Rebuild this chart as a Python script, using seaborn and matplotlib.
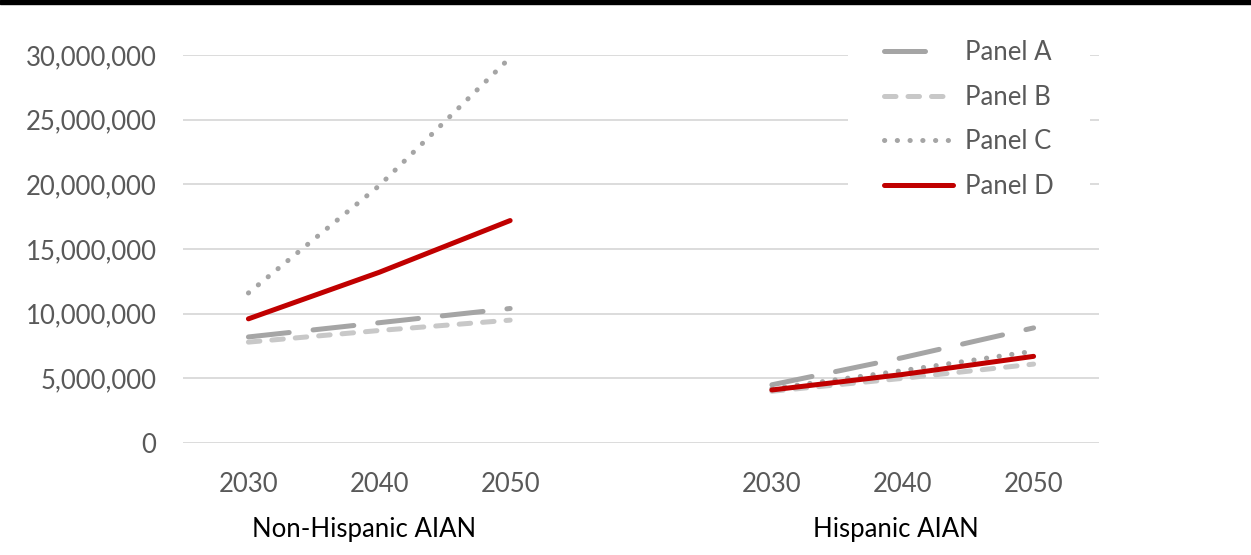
import matplotlib
matplotlib.use("Agg")
import matplotlib.pyplot as plt
from matplotlib.lines import Line2D
from matplotlib.patches import Rectangle
from matplotlib.ticker import FuncFormatter
import matplotlib.transforms as mtransforms
import pandas as pd
import seaborn as sns

# ---- data -------------------------------------------------------------
groups = ["Non-Hispanic AIAN", "Hispanic AIAN"]
years = [2030, 2040, 2050]
panels = ["Panel A", "Panel B", "Panel C", "Panel D"]

panel_a = [[8.2e6, 9.3e6, 10.4e6], [4.5e6, 6.6e6, 8.9e6]]
panel_b = [[7.8e6, 8.7e6, 9.5e6], [4.0e6, 5.0e6, 6.1e6]]
panel_c = [[11.6e6, 19.9e6, 29.8e6], [4.2e6, 5.6e6, 7.1e6]]
panel_d = [[9.6e6, 13.2e6, 17.2e6], [4.1e6, 5.3e6, 6.7e6]]

y_ticks = [0, 5e6, 10e6, 15e6, 20e6, 25e6, 30e6]

# ---- styling ----------------------------------------------------------
colors = {"Panel A": "#a5a5a5", "Panel B": "#c8c8c8",
          "Panel C": "#a5a5a5", "Panel D": "#c00000"}
dash_map = {"Panel A": (8.2, 4.8), "Panel B": (2.3, 2.4),
            "Panel C": (0.05, 2.5), "Panel D": ""}
# legend swatches: the long dash shows as a single stroke
legend_dashes = {"Panel A": (8.2, 12), "Panel B": (2.3, 2.4),
                 "Panel C": (0.05, 2.5), "Panel D": None}
LW = 3.6
TEXT = "#595959"
FS = 18.5

sns.set_theme(style="white")
plt.rcParams["font.family"] = ["Lato", "DejaVu Sans"]

# long-form table; every group occupies three slots followed by one empty slot
rows = []
for pname, vals in zip(panels, [panel_a, panel_b, panel_c, panel_d]):
    for gi, g in enumerate(groups):
        for yi, yr in enumerate(years):
            rows.append({"panel": pname, "group": g, "year": yr,
                         "slot": gi * (len(years) + 1) + yi,
                         "value": vals[gi][yi]})
df = pd.DataFrame(rows)

W, H = 1251, 555
fig = plt.figure(figsize=(W / 100, H / 100), dpi=100)
ax = fig.add_axes([183 / W, (H - 443) / H, (1099 - 183) / W, (443 - 55) / H])

# horizontal gridlines
for t in y_ticks:
    ax.axhline(t, color="#d9d9d9", lw=1.3, zorder=0)

sns.lineplot(data=df, x="slot", y="value", hue="panel", style="panel",
             units="group", estimator=None, palette=colors, dashes=dash_map,
             hue_order=panels, style_order=panels, linewidth=LW,
             dash_capstyle="round", solid_capstyle="round",
             legend=False, ax=ax, zorder=3)

ax.set_xlim(-0.5, 6.5)
ax.set_ylim(0, 30e6)
ax.set_yticks(y_ticks)
ax.yaxis.set_major_formatter(FuncFormatter(lambda v, p: f"{v:,.0f}"))
xt = sorted(df["slot"].unique())
ax.set_xticks(xt)
ax.set_xticklabels([str(years[int(s) % 4]) for s in xt])
ax.set_xlabel("")
ax.set_ylabel("")
for s in ax.spines.values():
    s.set_visible(False)
ax.tick_params(axis="both", length=0, labelsize=FS, labelcolor=TEXT)
ax.tick_params(axis="y", pad=19)
ax.tick_params(axis="x", pad=21)

# category labels under the year ticks
trans = mtransforms.blended_transform_factory(ax.transData, fig.transFigure)
for xc, g in zip([0.88, 4.95], groups):
    ax.text(xc, 1 - 530 / H, g, transform=trans, ha="center", va="center",
            fontsize=FS, color="black")

# legend
handles = []
for p in panels:
    d = legend_dashes[p]
    kw = {"dashes": d} if d else {}
    handles.append(Line2D([], [], color=colors[p], lw=LW,
                          dash_capstyle="round", solid_capstyle="round", **kw))
leg = ax.legend(handles, panels, loc="upper left",
                bbox_to_anchor=(848 / W, 1 - 4 / H),
                bbox_transform=fig.transFigure,
                fontsize=FS, frameon=True, fancybox=False,
                handlelength=2.7, handletextpad=0.45, labelspacing=0.76,
                borderpad=1.4, borderaxespad=0)
leg.get_frame().set_facecolor("white")
leg.get_frame().set_edgecolor("none")
leg.get_frame().set_alpha(1)
leg.set_zorder(5)
for t in leg.get_texts():
    t.set_color(TEXT)

# black rule along the top edge
fig.patches.append(Rectangle((0, 1 - 4 / H), 1, 4 / H, transform=fig.transFigure,
                             color="black", zorder=10))

fig.savefig("out.png", dpi=100, facecolor="white")
